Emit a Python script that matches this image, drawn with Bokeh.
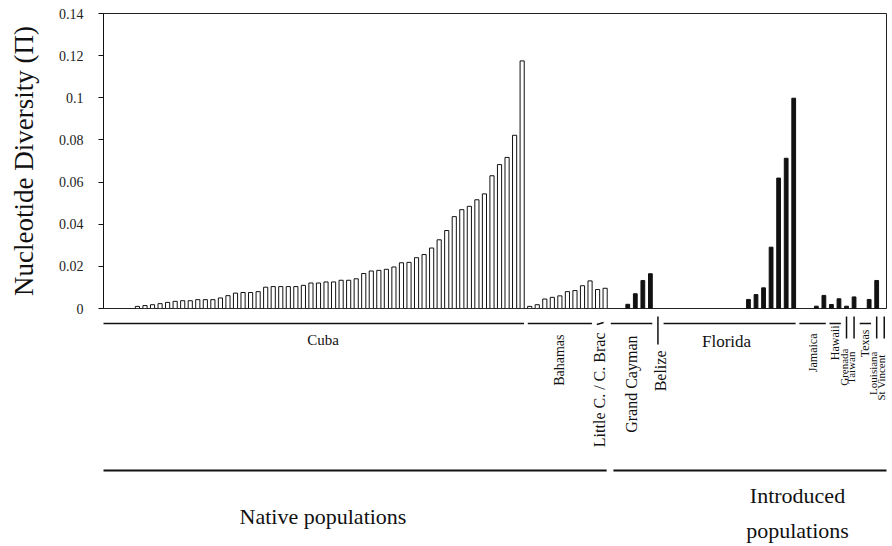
import numpy as np
from bokeh.plotting import figure
from bokeh.layouts import column
from bokeh.models import Range1d, FixedTicker, ColumnDataSource
from bokeh.core.properties import value
from bokeh.embed import file_html
from bokeh.resources import INLINE

# ---------------- data ----------------
cuba = [0.0010, 0.0014, 0.0018, 0.0023, 0.0029, 0.0034, 0.0037, 0.0037, 0.0042, 0.0042,
        0.0042, 0.0050, 0.0061, 0.0073, 0.0076, 0.0076, 0.0080, 0.0101, 0.0104, 0.0104,
        0.0104, 0.0104, 0.0110, 0.0121, 0.0121, 0.0126, 0.0126, 0.0134, 0.0134, 0.0141,
        0.0166, 0.0178, 0.0181, 0.0186, 0.0197, 0.0217, 0.0219, 0.0241, 0.0256, 0.0287,
        0.0326, 0.0370, 0.0436, 0.0469, 0.0485, 0.0516, 0.0544, 0.0630, 0.0683, 0.0717,
        0.0822, 0.1175]
bahamas = [0.0010, 0.0018, 0.0045, 0.0053, 0.0060, 0.0080, 0.0085, 0.0108, 0.0131]
little_cayman_brac = [0.0090, 0.0096]
grand_cayman = [0.0, 0.0, 0.0020, 0.0070, 0.0133, 0.0165]
belize = [0.0]
florida = [0.0] * 11 + [0.0043, 0.0066, 0.0098, 0.0291, 0.0619, 0.0713, 0.0998]
jamaica = [0.0, 0.0, 0.0011, 0.0062]
hawaii = [0.0019, 0.0046]
grenada = [0.0011]
taiwan = [0.0055]
texas = [0.0, 0.0043]
louisiana = [0.0133]
st_vincent = [0.0]

group_names = ["Cuba", "Bahamas", "Little C. / C. Brac", "Grand Cayman", "Belize", "Florida",
               "Jamaica", "Hawaii", "Grenada", "Taiwan", "Texas", "Louisiana", "St Vincent"]
group_values = [cuba, bahamas, little_cayman_brac, grand_cayman, belize, florida,
                jamaica, hawaii, grenada, taiwan, texas, louisiana, st_vincent]
group_native = [True, True, True, False, False, False, False, False, False, False, False, False, False]

y_ticks = [0, 0.02, 0.04, 0.06, 0.08, 0.10, 0.12, 0.14]
y_tick_labels = ["0", "0.02", "0.04", "0.06", "0.08", "0.1", "0.12", "0.14"]
status_names = ["Native populations", "Introduced\npopulations"]

# ---------------- styling of the group labels ----------------
# (orientation, bracket kind, label top offset in px below the axis, font size, x nudge)
label_style = {
    "Cuba": ("h", "line", 23, "15px", -0.9),
    "Bahamas": ("v", "line", 26, "14px", 0.0),
    "Little C. / C. Brac": ("v", "dash", 24, "16px", -0.3),
    "Grand Cayman": ("v", "line", 27, "16px", 0.0),
    "Belize": ("v", "tick", 42, "16px", 0.3),
    "Florida": ("h", "line", 23, "17px", -0.4),
    "Jamaica": ("v", "line", 25, "12px", 0.0),
    "Hawaii": ("v", "line", 17, "12px", 0.0),
    "Grenada": ("v", "tick", 40, "11px", -0.4),
    "Taiwan": ("v", "tick", 43, "11px", -0.45),
    "Texas": ("v", "line", 21, "12px", -0.1),
    "Louisiana": ("v", "tick", 43, "11px", -0.5),
    "St Vincent": ("v", "tick", 46, "11px", -0.45),
}

SERIF = value("Liberation Serif")
INK = "#111111"

# ---------------- build positions ----------------
xs, tops, natives, starts = [], [], [], []
pos = 0
for vals, nat in zip(group_values, group_native):
    starts.append(pos)
    for v in vals:
        xs.append(pos)
        tops.append(v)
        natives.append(nat)
        pos += 1
xs = np.array(xs)
tops = np.array(tops)
natives = np.array(natives)
keep = tops > 0

nat_src = ColumnDataSource(dict(x=xs[keep & natives], top=tops[keep & natives]))
intro_src = ColumnDataSource(dict(x=xs[keep & ~natives], top=tops[keep & ~natives]))

W = 889
LEFT, RIGHT = 103, 3
H_TOP, H_BOT = 316, 230
xr = Range1d(-4.5, 99.3)

top = figure(width=W, height=H_TOP, output_backend="svg", toolbar_location=None,
             x_range=xr, y_range=Range1d(0, 0.14),
             min_border_left=LEFT, min_border_right=RIGHT, min_border_top=13, min_border_bottom=8)
top.xaxis.visible = False
top.xgrid.visible = False
top.ygrid.visible = False
top.outline_line_color = "#222222"
top.outline_line_width = 1

top.vbar(x="x", top="top", width=0.55, bottom=0, source=nat_src,
         fill_color="white", line_color=INK, line_width=1)
top.vbar(x="x", top="top", width=0.5, bottom=0, source=intro_src,
         fill_color=INK, line_color=INK, line_width=1)

ya = top.yaxis[0]
ya.ticker = FixedTicker(ticks=y_ticks)
ya.major_label_overrides = {t: l for t, l in zip(y_ticks, y_tick_labels)}
ya.major_label_text_font = "Liberation Serif"
ya.major_label_text_font_size = "14px"
ya.major_label_text_color = "#222222"
ya.major_label_standoff = 15
ya.major_tick_out = 5
ya.major_tick_in = 0
ya.minor_tick_out = 0
ya.minor_tick_in = 0
ya.axis_line_color = INK
ya.major_tick_line_color = INK
ya.axis_label = "Nucleotide Diversity (Π)"
ya.axis_label_text_font = "Liberation Serif"
ya.axis_label_text_font_size = "27px"
ya.axis_label_text_font_style = "normal"
ya.axis_label_text_color = INK
ya.axis_label_standoff = 17

# ---------------- bottom: group labels (y = pixels below the zero line) ----------------
bot = figure(width=W, height=H_BOT, output_backend="svg", toolbar_location=None,
             x_range=xr, y_range=Range1d(8 + H_BOT, 8),
             min_border_left=LEFT, min_border_right=RIGHT, min_border_top=0, min_border_bottom=0)
bot.axis.visible = False
bot.grid.visible = False
bot.outline_line_color = None

BR_Y = 15
seg = dict(x0=[], y0=[], x1=[], y1=[])
for name, vals, st in zip(group_names, group_values, starts):
    orient, kind, ly, fs, dx = label_style[name]
    first, last = st, st + len(vals) - 1
    cx = (first + last) / 2
    if kind == "line":
        lo = first - 0.25 if name != "Cuba" else xr.start - 0.5
        seg["x0"].append(lo); seg["x1"].append(last + 0.25)
        seg["y0"].append(BR_Y); seg["y1"].append(BR_Y)
    elif kind == "dash":
        seg["x0"].append(first - 0.1); seg["x1"].append(first + 0.8)
        seg["y0"].append(BR_Y + 1); seg["y1"].append(BR_Y - 1)
    else:
        seg["x0"].append(cx); seg["x1"].append(cx)
        seg["y0"].append(2); seg["y1"].append(36 if name == "Belize" else 30)
    if orient == "h":
        bot.text(x=[cx + dx], y=[ly], text=[name], text_align="center", text_baseline="top",
                 text_font=SERIF, text_font_size=value(fs), text_color=INK)
    else:
        bot.text(x=[cx + dx], y=[ly], text=[name], angle=np.pi / 2, text_align="right",
                 text_baseline="middle", text_font=SERIF, text_font_size=value(fs),
                 text_color=INK)
bot.segment(x0="x0", y0="y0", x1="x1", y1="y1", source=ColumnDataSource(seg),
            line_color=INK, line_width=1.5)

# native / introduced brackets
n_last = starts[3] - 1
i_first = starts[3]
i_last = len(xs) - 1
bot.segment(x0=[xr.start - 0.5, i_first + 0.1], y0=[162, 162],
            x1=[n_last + 0.2, i_last + 0.4], y1=[162, 162],
            line_color=INK, line_width=2)
status_x = [24.6, 87.5]
status_y = [208, 187]
tx, ty, tt = [], [], []
for sx, sy, name in zip(status_x, status_y, status_names):
    for k, line in enumerate(name.split("\n")):
        tx.append(sx); ty.append(sy + 35 * k); tt.append(line)
bot.text(x=tx, y=ty, text=tt, text_align="center", text_baseline="middle",
         text_font=SERIF, text_font_size=value("22px"), text_color=INK)

layout = column(top, bot, spacing=0)
open("out.html", "w").write(file_html(layout, INLINE))
